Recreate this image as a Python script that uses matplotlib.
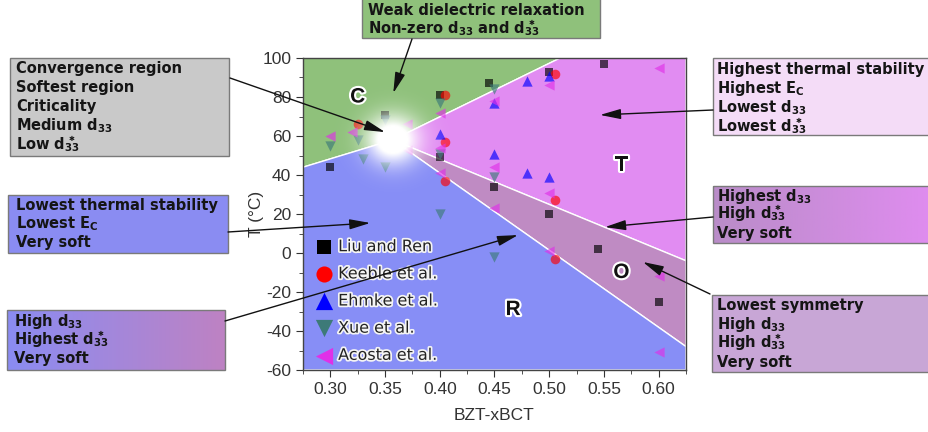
import numpy as np
import matplotlib
matplotlib.use("Agg")
import matplotlib.pyplot as plt
import matplotlib.patheffects as pe
from matplotlib.patches import Polygon, Rectangle
from matplotlib.ticker import MultipleLocator

plt.rcParams["mathtext.default"] = "bf"
plt.rcParams["axes.unicode_minus"] = False
plt.rcParams["font.family"] = ["Liberation Sans", "DejaVu Sans"]

# phase diagram of BZT-xBCT: boundaries in (x, T / degC)
XLIM = (0.275, 0.625)
YLIM = (-60, 100)
TRIPLE = (0.357, 58)     # convergence point
CR_LEFT_T = 44           # C/R boundary meets left edge
CT_TOP_X = 0.51          # C/T boundary meets top edge
TO_RIGHT_T = -4          # T/O boundary meets right edge
OR_RIGHT_T = -48         # O/R boundary meets right edge

# literature data
liu_x = [0.30, 0.35, 0.40, 0.40, 0.445, 0.45, 0.50, 0.50, 0.55, 0.545, 0.60]
liu_t = [44, 71, 81, 49, 87, 34, 93, 20, 97, 2, -25]
keeble_x = [0.325, 0.405, 0.405, 0.405, 0.505, 0.505, 0.505]
keeble_t = [66, 81, 57, 37, 92, 27, -3]
ehmke_x = [0.40, 0.45, 0.45, 0.48, 0.48, 0.50, 0.50]
ehmke_t = [61, 77, 51, 88, 41, 91, 39]
xue_x = [0.30, 0.325, 0.33, 0.35, 0.35, 0.40, 0.40, 0.40, 0.45, 0.45, 0.45]
xue_t = [55, 58, 48, 68, 44, 77, 51, 20, 84, 39, -2]
acosta_x = [0.30, 0.32, 0.37, 0.37, 0.40, 0.40, 0.40, 0.45, 0.45, 0.45,
            0.50, 0.50, 0.50, 0.60, 0.60, 0.60]
acosta_t = [60, 62, 66, 53, 72, 54, 41, 78, 44, 23, 86, 31, 1, 95, -12, -51]

SERIES = [
    ("Liu and Ren", liu_x, liu_t, "s", "#000000", 40),
    ("Keeble et al.", keeble_x, keeble_t, "o", "#ff0000", 48),
    ("Ehmke et al.", ehmke_x, ehmke_t, "^", "#0000ff", 55),
    ("Xue et al.", xue_x, xue_t, "v", "#3d7a78", 55),
    ("Acosta et al.", acosta_x, acosta_t, "<", "#e030e8", 55),
]

PHASE_COL = {"C": "#8fc17b", "T": "#e18cf2", "O": "#bf8bc3", "R": "#878ef6"}
PHASE_LABEL_POS = {"C": (0.325, 80), "T": (0.566, 45), "O": (0.566, -10), "R": (0.467, -29)}

W, H = 929, 432
fig = plt.figure(figsize=(W / 100, H / 100), dpi=100)
ax = fig.add_axes([303 / W, 1 - 370 / H, 383 / W, 312 / H])
ax.set_xlim(*XLIM)
ax.set_ylim(*YLIM)

x0, x1 = XLIM
y0, y1 = YLIM
tx, tt = TRIPLE
regions = {
    "C": [(x0, CR_LEFT_T), TRIPLE, (CT_TOP_X, y1), (x0, y1)],
    "T": [TRIPLE, (CT_TOP_X, y1), (x1, y1), (x1, TO_RIGHT_T)],
    "O": [TRIPLE, (x1, TO_RIGHT_T), (x1, OR_RIGHT_T)],
    "R": [(x0, CR_LEFT_T), TRIPLE, (x1, OR_RIGHT_T), (x1, y0), (x0, y0)],
}
for k, verts in regions.items():
    ax.add_patch(Polygon(verts, closed=True, facecolor=PHASE_COL[k],
                         edgecolor="white", lw=1.0, zorder=1))

halo = [pe.withStroke(linewidth=3, foreground="white")]
for k, (px, py) in PHASE_LABEL_POS.items():
    ax.text(px, py, k, fontsize=15, fontweight="bold", ha="center", va="center",
            color="#111111", path_effects=halo, zorder=3)

handles = []
for name, xs, ts, mk, col, s in SERIES:
    ax.scatter(xs, ts, marker=mk, s=s, color=col, alpha=0.65, lw=0, zorder=4)
    handles.append(ax.scatter([], [], marker=mk, s=s * 2.8, color=col, lw=0, label=name))

# white glow at the convergence point (radius in screen pixels)
sx = 383 / (x1 - x0)
sy = 312 / (y1 - y0)
gx = np.linspace(tx - 70 / sx, tx + 70 / sx, 220)
gy = np.linspace(tt - 70 / sy, tt + 70 / sy, 220)
GX, GY = np.meshgrid(gx, gy)
r = np.hypot((GX - tx) * sx / 1.1, (GY - tt) * sy)
glow = np.zeros(GX.shape + (4,))
glow[..., :3] = 1.0
glow[..., 3] = np.clip(1.4 * np.exp(-(r / 24.0) ** 2), 0, 1)
ax.imshow(glow, extent=(gx[0], gx[-1], gy[0], gy[-1]), origin="lower",
          aspect="auto", zorder=5, interpolation="bilinear")
ax.set_xlim(*XLIM)
ax.set_ylim(*YLIM)

leg = ax.legend(handles=handles, loc="upper left", bbox_to_anchor=(0.0, 0.46),
                frameon=False, handlelength=1.0, handletextpad=0.4,
                labelspacing=0.76, borderpad=0.3,
                prop={"family": "DejaVu Sans", "size": 11.5})
leg.set_zorder(6)
for t in leg.get_texts():
    t.set_color("#222222")
    t.set_path_effects([pe.withStroke(linewidth=2.5, foreground="#f4f4f4")])

ax.xaxis.set_minor_locator(MultipleLocator(0.025))
ax.yaxis.set_major_locator(MultipleLocator(20))
ax.yaxis.set_minor_locator(MultipleLocator(10))
ax.set_xticks(np.arange(0.30, 0.601, 0.05))
ax.set_xticklabels([f"{v:.2f}" for v in np.arange(0.30, 0.601, 0.05)])
ax.tick_params(which="both", direction="out", colors="#333333", labelsize=12.5,
               top=False, right=False)
ax.tick_params(which="major", length=5)
ax.tick_params(which="minor", length=3)
for sp in ax.spines.values():
    sp.set_color("#444444")
    sp.set_linewidth(1.0)
    sp.set_zorder(7)
ax.set_xlabel("BZT-xBCT", fontsize=12.5, color="#333333", labelpad=8)
ax.set_ylabel("T (°C)", fontsize=12.5, color="#333333", labelpad=-1)

for side in ("top", "right"):
    sec = ax.secondary_xaxis("top") if side == "top" else ax.secondary_yaxis("right")
    axis = sec.xaxis if side == "top" else sec.yaxis
    axis.set_major_locator(MultipleLocator(0.05 if side == "top" else 20))
    axis.set_minor_locator(MultipleLocator(0.025 if side == "top" else 10))
    sec.tick_params(which="both", direction="in", colors="#444444", labelsize=0,
                    labeltop=False, labelright=False)
    sec.tick_params(which="major", length=4)
    sec.tick_params(which="minor", length=2.5)
    for sp in sec.spines.values():
        sp.set_visible(False)

# callout boxes, drawn in figure pixel coordinates
ov = fig.add_axes([0, 0, 1, 1], zorder=10)
ov.set_xlim(0, W)
ov.set_ylim(H, 0)
ov.axis("off")
ov.patch.set_alpha(0)

d33 = r"$\mathbf{d_{33}}$"
# heavy asterisk stacked over the subscript
ds33 = r"$\mathbf{d}_{\overset{✱}{33}}$"
boxes = [
    # (left, top, right, bottom, colour(s), text x, first baseline, step, lines, arrow start, arrow target)
    (362, -2, 600, 38, "#8fc17b", 368, 15, 18,
     ["Weak dielectric relaxation", "Non-zero " + d33 + " and " + ds33],
     (412, 39), (0.3575, 82)),
    (10, 58, 229, 156, "#c9c9c9", 16, 73, 19,
     ["Convergence region", "Softest region", "Criticality",
      "Medium " + d33, "Low " + ds33],
     (230, 78), (0.350, 62)),
    (8, 195, 228, 253, "#8a8cf2", 16, 210, 18.5,
     ["Lowest thermal stability", r"Lowest $\mathbf{E_C}$", "Very soft"],
     (228, 232), (0.3365, 15.4)),
    (7, 310, 225, 370, ("#8a8cf2", "#be82c3"), 14, 326, 18.5,
     ["High " + d33, "Highest " + ds33, "Very soft"],
     (225, 321), (0.4715, 9.2)),
    (713, 58, 935, 135, "#f4dcf7", 717, 74, 19,
     ["Highest thermal stability", r"Highest $\mathbf{E_C}$",
      "Lowest " + d33, "Lowest " + ds33],
     (713, 110), (0.5464, 70.8)),
    (713, 186, 935, 243, ("#b98cc8", "#e08cf0"), 717, 201, 18.5,
     ["Highest " + d33, "High " + ds33, "Very soft"],
     (713, 217), (0.551, 13.3)),
    (712, 295, 935, 372, "#c8a6d6", 717, 310, 19,
     ["Lowest symmetry", "High " + d33, "High " + ds33, "Very soft"],
     (710, 294), (0.5856, -4.6)),
]

for (l, t, rgt, b, col, txt_x, base, step, lines, start, target) in boxes:
    if isinstance(col, tuple):
        c0 = np.array(matplotlib.colors.to_rgb(col[0]))
        c1 = np.array(matplotlib.colors.to_rgb(col[1]))
        grad = np.linspace(0, 1, 256)[None, :, None] * (c1 - c0) + c0
        ov.imshow(grad, extent=(l, rgt, b, t), aspect="auto", zorder=1)
        ov.add_patch(Rectangle((l, t), rgt - l, b - t, fill=False,
                               edgecolor="#7a7a7a", lw=1.0, zorder=2))
    else:
        ov.add_patch(Rectangle((l, t), rgt - l, b - t, facecolor=col,
                               edgecolor="#7a7a7a", lw=1.0, zorder=1))
    for i, line in enumerate(lines):
        ov.text(txt_x, base + i * step, line, fontsize=10.5, fontweight="bold",
                family="DejaVu Sans", color="#151515", va="baseline", ha="left",
                zorder=3)
    ov.annotate("", xy=target, xycoords=ax.transData, xytext=start,
                textcoords=ov.transData,
                arrowprops=dict(arrowstyle="-|>,head_length=0.9,head_width=0.22",
                                color="#111111", lw=1.0, shrinkA=0, shrinkB=0,
                                mutation_scale=14))

ov.set_xlim(0, W)
ov.set_ylim(H, 0)

fig.savefig("out.png", dpi=100)
